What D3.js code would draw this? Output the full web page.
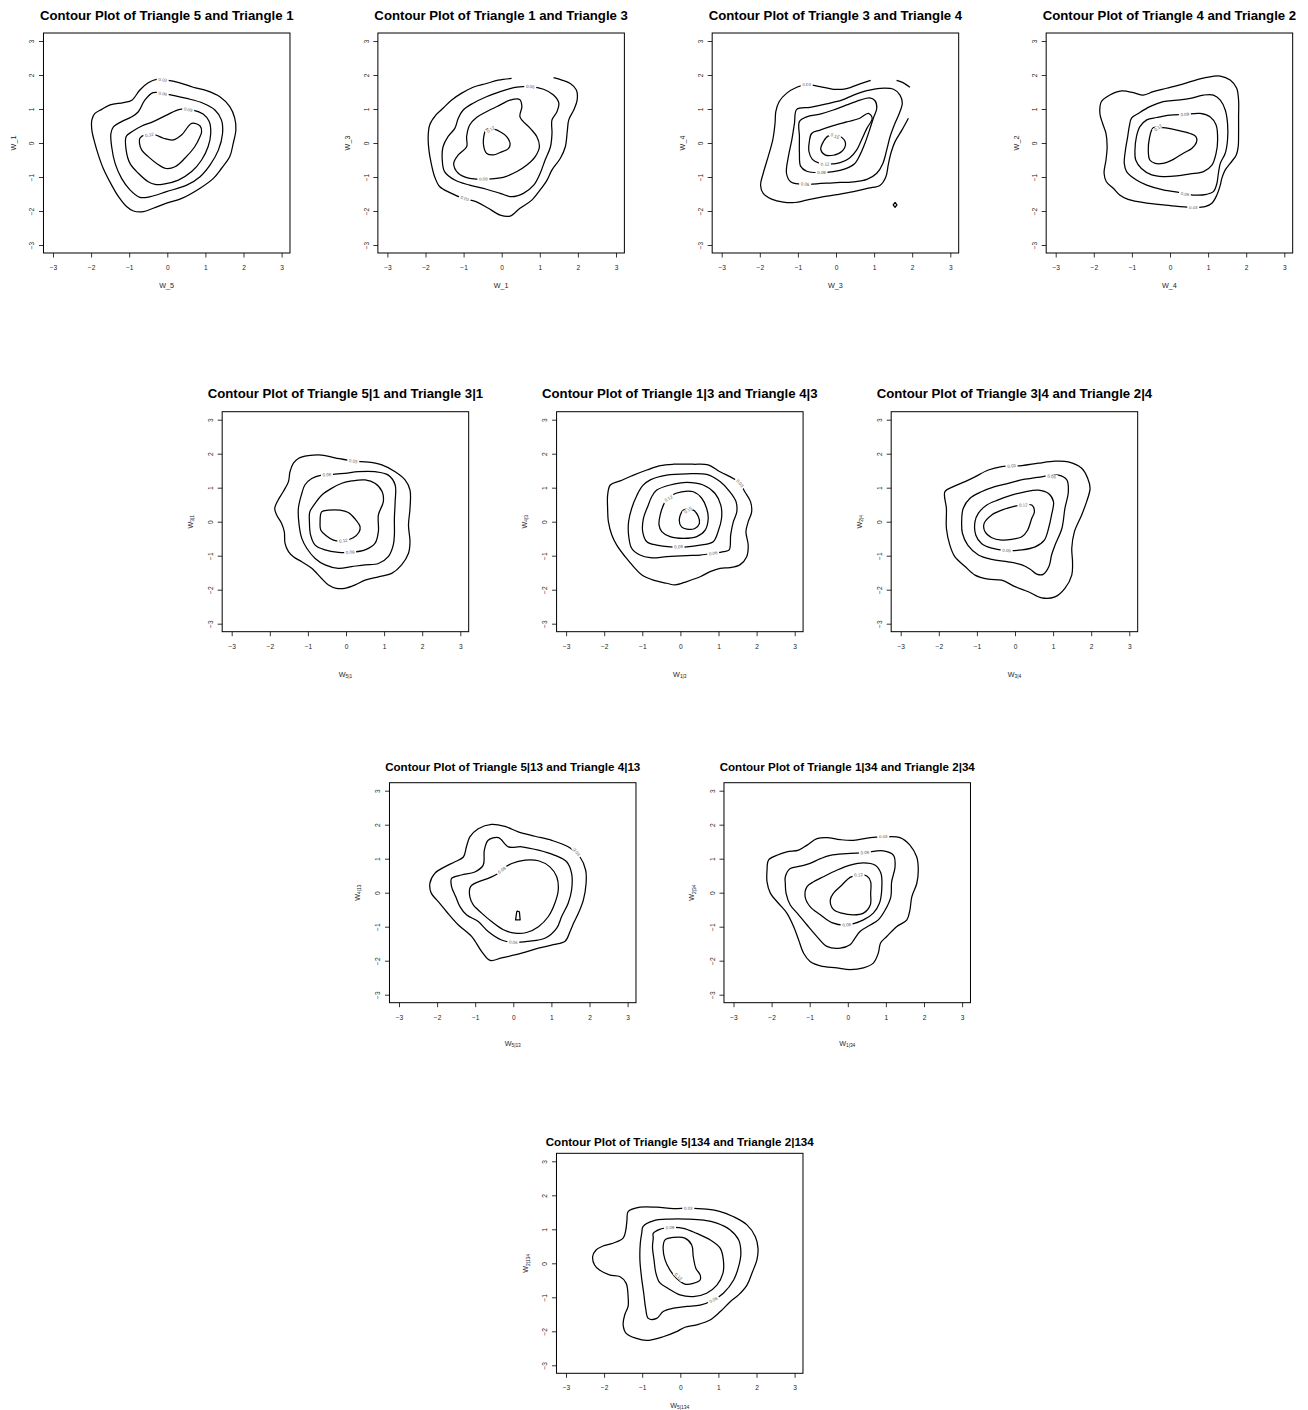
<!DOCTYPE html>
<html><head><meta charset="utf-8">
<script src="https://cdn.jsdelivr.net/npm/d3@7"></script>
<style>
body{margin:0;background:#fff}
svg{display:block}
text{font-family:"Liberation Sans",Arial,Helvetica,sans-serif}
</style>
</head><body>
<svg id="chart" width="1308" height="1410"></svg>
<script>
// ---------- axis ticks ----------
const tickValues = [-3, -2, -1, 0, 1, 2, 3];
const tickLabels = ["\u22123", "\u22122", "\u22121", "0", "1", "2", "3"];

// ---------- titles & axis labels ----------
const titles = [
  "Contour Plot of Triangle 5 and Triangle 1",
  "Contour Plot of Triangle 1 and Triangle 3",
  "Contour Plot of Triangle 3 and Triangle 4",
  "Contour Plot of Triangle 4 and Triangle 2",
  "Contour Plot of Triangle 5|1 and Triangle 3|1",
  "Contour Plot of Triangle 1|3 and Triangle 4|3",
  "Contour Plot of Triangle 3|4 and Triangle 2|4",
  "Contour Plot of Triangle 5|13 and Triangle 4|13",
  "Contour Plot of Triangle 1|34 and Triangle 2|34",
  "Contour Plot of Triangle 5|134 and Triangle 2|134"
];
// [base, subscript] ; plain labels have null subscript
const xLabels = [["W_5",null],["W_1",null],["W_3",null],["W_4",null],
  ["W","5|1"],["W","1|3"],["W","3|4"],["W","5|13"],["W","1|34"],["W","5|134"]];
const yLabels = [["W_1",null],["W_3",null],["W_4",null],["W_2",null],
  ["W","3|1"],["W","4|3"],["W","2|4"],["W","4|13"],["W","2|34"],["W","2|134"]];

// ---------- contour data (x, y in data units) ----------
// Panel 1
const p1_c03 = [[-0.02,1.85],[0.33,1.77],[0.68,1.64],[1.03,1.54],[1.38,1.36],[1.64,1.07],[1.77,0.73],[1.80,0.38],[1.73,-0.01],[1.64,-0.40],[1.42,-0.75],[1.21,-1.04],[0.86,-1.33],[0.38,-1.63],[-0.02,-1.77],[-0.37,-1.92],[-0.63,-2.02],[-0.89,-2.00],[-1.07,-1.87],[-1.28,-1.58],[-1.46,-1.24],[-1.68,-0.75],[-1.81,-0.35],[-1.90,-0.01],[-1.98,0.38],[-1.98,0.68],[-1.90,0.87],[-1.72,0.99],[-1.50,1.12],[-1.15,1.19],[-0.93,1.26],[-0.72,1.56],[-0.50,1.77],[-0.28,1.87]];
const p1_c06 = [[-0.02,1.44],[0.51,1.31],[0.94,1.17],[1.25,0.97],[1.42,0.68],[1.45,0.28],[1.34,-0.21],[1.12,-0.65],[0.86,-0.99],[0.51,-1.24],[-0.02,-1.43],[-0.45,-1.58],[-0.72,-1.60],[-0.98,-1.38],[-1.20,-1.04],[-1.37,-0.60],[-1.46,-0.11],[-1.48,0.28],[-1.41,0.48],[-1.20,0.63],[-0.93,0.77],[-0.76,0.92],[-0.59,1.26],[-0.37,1.48]];
const p1_c09 = [[-0.02,0.82],[0.33,0.99],[0.68,0.97],[0.94,0.85],[1.10,0.63],[1.14,0.28],[1.07,-0.11],[0.90,-0.50],[0.64,-0.84],[0.29,-1.09],[-0.10,-1.21],[-0.32,-1.22],[-0.50,-1.14],[-0.76,-0.89],[-0.98,-0.60],[-1.08,-0.21],[-1.08,0.19],[-0.93,0.33],[-0.67,0.50],[-0.37,0.63]];
const p1_c12 = [[-0.32,0.24],[-0.10,0.14],[0.16,0.09],[0.38,0.24],[0.64,0.58],[0.86,0.50],[0.90,0.33],[0.86,0.19],[0.72,-0.11],[0.46,-0.45],[0.20,-0.70],[-0.03,-0.75],[-0.28,-0.60],[-0.50,-0.40],[-0.67,-0.21],[-0.73,-0.01],[-0.72,0.14],[-0.59,0.24]];
const p1_labels = [[0.03,-0.12,1.86],[0.06,-0.12,1.45],[0.09,0.55,0.98],[0.12,-0.47,0.24]];

// Panel 2
const p2_c03 = [[0.26,1.90],[-0.09,1.85],[-0.40,1.75],[-0.75,1.64],[-1.06,1.46],[-1.32,1.26],[-1.54,1.02],[-1.73,0.82],[-1.89,0.53],[-1.93,0.19],[-1.91,-0.21],[-1.85,-0.60],[-1.76,-0.99],[-1.63,-1.28],[-1.36,-1.46],[-1.01,-1.63],[-0.66,-1.73],[-0.35,-1.92],[-0.04,-2.12],[0.22,-2.15],[0.48,-1.92],[0.79,-1.68],[1.01,-1.38],[1.19,-1.09],[1.32,-0.79],[1.54,-0.45],[1.67,-0.11],[1.72,0.33],[1.76,0.68],[1.89,0.97],[1.98,1.26],[1.96,1.56],[1.80,1.75],[1.58,1.85],[1.36,1.92]];
const p2_c06 = [[0.40,1.64],[0.75,1.66],[1.10,1.58],[1.36,1.41],[1.50,1.17],[1.45,0.92],[1.32,0.68],[1.32,0.28],[1.28,-0.11],[1.14,-0.50],[1.01,-0.89],[0.84,-1.24],[0.57,-1.48],[0.26,-1.58],[-0.04,-1.48],[-0.40,-1.36],[-0.84,-1.24],[-1.23,-1.09],[-1.50,-0.84],[-1.56,-0.50],[-1.54,-0.11],[-1.41,0.19],[-1.23,0.43],[-1.14,0.73],[-1.01,0.97],[-0.75,1.17],[-0.40,1.36],[-0.04,1.51],[0.22,1.60]];
const p2_c09 = [[0.22,1.26],[0.47,1.28],[0.53,1.07],[0.48,0.77],[0.75,0.43],[0.92,0.19],[0.99,-0.11],[0.88,-0.40],[0.66,-0.65],[0.40,-0.84],[0.04,-1.01],[-0.40,-1.06],[-0.84,-1.04],[-1.14,-0.89],[-1.26,-0.60],[-1.14,-0.35],[-0.92,-0.11],[-0.92,0.19],[-0.84,0.53],[-0.66,0.75],[-0.40,0.92],[-0.04,1.12]];
const p2_c12 = [[-0.40,0.40],[-0.18,0.40],[-0.04,0.33],[0.13,0.19],[0.22,-0.01],[0.18,-0.16],[-0.04,-0.28],[-0.22,-0.35],[-0.40,-0.30],[-0.47,-0.11],[-0.47,0.19]];
const p2_labels = [[0.03,-0.97,-1.63],[0.06,0.75,1.66],[0.09,-0.48,-1.06],[0.12,-0.29,0.40]];

// Panel 3
const p3_c03 = [[0.91,1.84],[0.63,1.74],[0.28,1.60],[-0.07,1.58],[-0.42,1.66],[-0.77,1.72],[-1.03,1.64],[-1.30,1.46],[-1.49,1.22],[-1.58,0.92],[-1.60,0.58],[-1.66,0.09],[-1.78,-0.40],[-1.91,-0.89],[-1.98,-1.24],[-1.91,-1.48],[-1.69,-1.65],[-1.38,-1.74],[-1.08,-1.75],[-0.77,-1.68],[-0.42,-1.60],[0.02,-1.52],[0.46,-1.43],[0.85,-1.33],[1.16,-1.24],[1.31,-0.99],[1.37,-0.65],[1.44,-0.30],[1.55,0.04],[1.73,0.38],[1.90,0.73]];
const p3_c03b = [[1.59,1.84],[1.77,1.77],[1.94,1.64]];
const p3_c03c = [[1.55,-1.75],[1.60,-1.82],[1.55,-1.89],[1.50,-1.82]];
const p3_c06 = [[-1.03,0.99],[-0.68,1.05],[-0.25,1.15],[0.15,1.26],[0.46,1.41],[0.81,1.54],[1.16,1.61],[1.51,1.58],[1.68,1.41],[1.74,1.17],[1.66,0.87],[1.53,0.53],[1.42,0.19],[1.33,-0.21],[1.23,-0.60],[1.07,-0.89],[0.81,-1.07],[0.46,-1.14],[-0.07,-1.17],[-0.51,-1.20],[-0.95,-1.21],[-1.19,-1.14],[-1.30,-0.89],[-1.25,-0.40],[-1.16,0.09],[-1.09,0.58]];
const p3_c09 = [[-0.96,0.63],[-0.77,0.77],[-0.42,0.85],[-0.07,0.97],[0.28,1.12],[0.63,1.26],[0.88,1.33],[1.02,1.25],[1.07,1.02],[0.98,0.73],[0.88,0.38],[0.76,-0.01],[0.63,-0.35],[0.48,-0.62],[0.24,-0.76],[-0.07,-0.84],[-0.42,-0.87],[-0.77,-0.83],[-0.93,-0.68],[-0.96,-0.30],[-0.96,0.19]];
const p3_c12 = [[-0.64,0.28],[-0.42,0.38],[-0.07,0.51],[0.28,0.62],[0.61,0.72],[0.85,0.87],[0.95,0.73],[0.81,0.43],[0.67,0.09],[0.54,-0.21],[0.35,-0.45],[0.11,-0.58],[-0.16,-0.62],[-0.42,-0.60],[-0.62,-0.48],[-0.71,-0.25],[-0.70,0.04]];
const p3_c15 = [[-0.20,0.21],[0.11,0.19],[0.25,-0.01],[0.15,-0.25],[-0.07,-0.36],[-0.29,-0.35],[-0.40,-0.19],[-0.33,0.04]];
const p3_labels = [[0.03,-0.77,1.72],[0.06,-0.81,-1.21],[0.09,-0.38,-0.87],[0.12,-0.29,-0.62],[0.15,-0.03,0.20]];

// Panel 4
const p4_c03 = [[-1.80,1.22],[-1.58,1.41],[-1.27,1.53],[-0.96,1.48],[-0.70,1.41],[-0.44,1.51],[-0.09,1.61],[0.26,1.71],[0.61,1.83],[0.96,1.93],[1.32,1.97],[1.58,1.85],[1.75,1.61],[1.80,1.26],[1.80,0.77],[1.80,0.28],[1.79,-0.11],[1.74,-0.35],[1.58,-0.60],[1.45,-0.79],[1.36,-1.04],[1.32,-1.24],[1.23,-1.53],[1.10,-1.77],[0.92,-1.87],[0.61,-1.89],[0.26,-1.87],[-0.18,-1.82],[-0.61,-1.77],[-1.10,-1.66],[-1.32,-1.53],[-1.49,-1.33],[-1.67,-1.14],[-1.73,-0.89],[-1.68,-0.50],[-1.65,-0.11],[-1.68,0.28],[-1.77,0.58],[-1.84,0.87]];
const p4_c06 = [[-1.01,0.73],[-0.83,0.87],[-0.53,1.07],[-0.18,1.22],[0.18,1.26],[0.53,1.31],[0.88,1.41],[1.14,1.41],[1.32,1.26],[1.45,0.97],[1.51,0.58],[1.51,0.09],[1.45,-0.30],[1.32,-0.60],[1.27,-0.89],[1.23,-1.19],[1.14,-1.43],[0.96,-1.51],[0.61,-1.53],[0.26,-1.46],[-0.18,-1.38],[-0.61,-1.24],[-0.88,-1.09],[-1.14,-0.84],[-1.20,-0.60],[-1.17,-0.21],[-1.11,0.19],[-1.07,0.48]];
const p4_c09 = [[-0.61,0.68],[-0.35,0.75],[0.00,0.82],[0.39,0.84],[0.79,0.87],[1.05,0.77],[1.21,0.53],[1.25,0.09],[1.21,-0.30],[1.10,-0.65],[0.88,-0.84],[0.53,-0.91],[0.18,-0.97],[-0.18,-0.99],[-0.48,-0.94],[-0.75,-0.75],[-0.90,-0.50],[-0.92,-0.21],[-0.88,0.19],[-0.79,0.48]];
const p4_c12 = [[-0.44,0.45],[-0.18,0.45],[0.18,0.38],[0.53,0.28],[0.68,0.19],[0.70,0.04],[0.57,-0.16],[0.35,-0.30],[0.09,-0.48],[-0.18,-0.60],[-0.39,-0.60],[-0.53,-0.50],[-0.57,-0.21],[-0.54,0.14]];
const p4_labels = [[0.03,0.61,-1.89],[0.06,0.39,-1.50],[0.09,0.39,0.84],[0.12,-0.31,0.45]];

// Panel 5
const p5_c03 = [[-1.25,1.86],[-0.99,1.94],[-0.64,1.96],[-0.29,1.88],[0.19,1.78],[0.59,1.75],[0.94,1.67],[1.29,1.47],[1.55,1.23],[1.68,0.93],[1.68,0.39],[1.64,-0.10],[1.68,-0.59],[1.64,-0.93],[1.46,-1.27],[1.20,-1.52],[0.85,-1.62],[0.50,-1.72],[0.24,-1.86],[-0.03,-1.96],[-0.25,-1.96],[-0.46,-1.86],[-0.64,-1.67],[-0.90,-1.37],[-1.16,-1.18],[-1.38,-1.03],[-1.51,-0.88],[-1.60,-0.64],[-1.62,-0.29],[-1.69,-0.05],[-1.82,0.20],[-1.87,0.39],[-1.78,0.64],[-1.65,0.88],[-1.51,1.18],[-1.47,1.47],[-1.38,1.72]];
const p5_c06 = [[-0.64,1.37],[-0.38,1.39],[-0.03,1.42],[0.32,1.47],[0.76,1.47],[1.11,1.37],[1.29,1.08],[1.29,0.59],[1.27,0.10],[1.27,-0.39],[1.24,-0.69],[1.11,-1.03],[0.85,-1.23],[0.50,-1.27],[0.15,-1.32],[-0.20,-1.37],[-0.55,-1.27],[-0.81,-1.08],[-1.03,-0.78],[-1.16,-0.49],[-1.23,-0.10],[-1.25,0.39],[-1.16,0.83],[-1.08,1.08],[-0.90,1.27]];
const p5_c09 = [[-0.38,0.98],[-0.11,1.13],[0.15,1.20],[0.50,1.23],[0.76,1.13],[0.95,0.88],[0.98,0.59],[0.85,0.20],[0.85,-0.29],[0.76,-0.64],[0.50,-0.83],[0.15,-0.90],[-0.20,-0.90],[-0.55,-0.83],[-0.81,-0.69],[-0.93,-0.39],[-0.96,0.00],[-0.95,0.29],[-0.81,0.54],[-0.64,0.78]];
const p5_c12 = [[-0.64,0.29],[-0.46,0.34],[-0.16,0.34],[0.06,0.27],[0.24,0.08],[0.37,-0.15],[0.34,-0.31],[0.19,-0.47],[-0.07,-0.56],[-0.33,-0.54],[-0.51,-0.42],[-0.66,-0.25],[-0.68,0.00]];
const p5_labels = [[0.03,0.19,1.78],[0.06,-0.50,1.38],[0.09,0.11,-0.90],[0.12,-0.07,-0.56]];

// Panel 6
const p6_c03 = [[-1.84,1.08],[-1.58,1.20],[-1.23,1.37],[-0.88,1.52],[-0.53,1.65],[-0.18,1.69],[0.34,1.69],[0.73,1.67],[1.04,1.47],[1.39,1.27],[1.56,1.13],[1.69,0.88],[1.84,0.59],[1.87,0.29],[1.78,0.00],[1.72,-0.29],[1.78,-0.69],[1.74,-1.03],[1.56,-1.27],[1.30,-1.35],[1.04,-1.37],[0.78,-1.47],[0.52,-1.62],[0.17,-1.76],[-0.14,-1.86],[-0.36,-1.81],[-0.71,-1.72],[-1.01,-1.57],[-1.23,-1.32],[-1.45,-1.03],[-1.67,-0.69],[-1.80,-0.39],[-1.89,0.00],[-1.91,0.39],[-1.91,0.78]];
const p6_c06 = [[-0.79,1.23],[-0.36,1.37],[0.17,1.41],[0.69,1.39],[1.04,1.18],[1.30,0.88],[1.46,0.59],[1.48,0.29],[1.39,0.00],[1.32,-0.39],[1.28,-0.83],[1.13,-0.88],[0.86,-0.93],[0.52,-0.98],[0.17,-1.00],[-0.36,-1.03],[-0.79,-1.06],[-1.06,-0.98],[-1.28,-0.78],[-1.36,-0.39],[-1.36,0.00],[-1.28,0.39],[-1.14,0.78],[-0.99,1.06]];
const p6_c09 = [[-0.62,0.93],[-0.27,1.08],[0.17,1.16],[0.60,1.08],[0.91,0.83],[1.06,0.49],[1.08,0.10],[0.99,-0.29],[0.86,-0.59],[0.52,-0.69],[0.17,-0.74],[-0.27,-0.74],[-0.62,-0.69],[-0.88,-0.59],[-0.99,-0.29],[-0.97,0.10],[-0.86,0.44],[-0.75,0.74]];
const p6_c12 = [[-0.40,0.59],[-0.23,0.78],[0.03,0.88],[0.34,0.88],[0.56,0.69],[0.69,0.39],[0.73,0.10],[0.65,-0.25],[0.43,-0.44],[0.08,-0.49],[-0.27,-0.44],[-0.49,-0.29],[-0.56,-0.10],[-0.53,0.20]];
const p6_c15 = [[0.08,0.34],[0.34,0.34],[0.47,0.15],[0.50,-0.05],[0.38,-0.20],[0.17,-0.22],[0.03,-0.15],[-0.03,0.05]];
const p6_labels = [[0.03,1.56,1.13],[0.06,0.86,-0.93],[0.09,-0.05,-0.74],[0.12,-0.31,0.68],[0.15,0.20,0.34]];

// Panel 7
const p7_c03 = [[-1.84,0.88],[-1.62,1.03],[-1.31,1.18],[-1.05,1.32],[-0.70,1.52],[-0.35,1.62],[0.18,1.65],[0.61,1.72],[1.05,1.78],[1.40,1.76],[1.75,1.57],[1.91,1.27],[1.97,0.98],[1.88,0.59],[1.75,0.20],[1.56,-0.29],[1.49,-0.78],[1.51,-1.18],[1.49,-1.57],[1.31,-1.96],[1.05,-2.21],[0.70,-2.24],[0.35,-2.06],[0.00,-1.91],[-0.35,-1.72],[-0.70,-1.69],[-1.05,-1.57],[-1.31,-1.32],[-1.58,-1.03],[-1.71,-0.69],[-1.80,-0.20],[-1.80,0.39]];
const p7_c06 = [[-1.36,0.39],[-1.18,0.69],[-0.88,0.88],[-0.53,1.03],[-0.18,1.13],[0.26,1.25],[0.70,1.32],[1.14,1.37],[1.36,1.23],[1.40,0.88],[1.31,0.39],[1.23,-0.20],[1.05,-0.69],[0.96,-0.98],[0.89,-1.32],[0.74,-1.55],[0.57,-1.54],[0.39,-1.39],[0.18,-1.27],[-0.18,-1.18],[-0.61,-1.11],[-0.96,-0.98],[-1.24,-0.69],[-1.38,-0.34],[-1.40,0.00]];
const p7_c09 = [[-1.05,0.00],[-0.96,0.25],[-0.74,0.49],[-0.44,0.64],[-0.09,0.78],[0.26,0.88],[0.61,0.93],[0.88,0.83],[1.01,0.59],[0.96,0.20],[0.88,-0.20],[0.77,-0.54],[0.53,-0.74],[0.18,-0.83],[-0.22,-0.85],[-0.61,-0.78],[-0.88,-0.64],[-1.03,-0.39]];
const p7_c12 = [[-0.81,-0.05],[-0.61,0.20],[-0.35,0.34],[0.00,0.46],[0.22,0.49],[0.44,0.49],[0.51,0.29],[0.44,0.10],[0.33,-0.25],[0.18,-0.44],[-0.09,-0.52],[-0.35,-0.54],[-0.61,-0.47],[-0.79,-0.29]];
const p7_labels = [[0.03,-0.09,1.64],[0.06,0.96,1.33],[0.09,-0.22,-0.85],[0.12,0.22,0.49]];

// Panel 8
const p8_c03 = [[-2.19,0.27],[-2.06,0.57],[-1.80,0.76],[-1.53,0.91],[-1.31,1.05],[-1.23,1.35],[-1.14,1.64],[-0.92,1.88],[-0.57,2.01],[-0.22,1.95],[0.13,1.79],[0.57,1.66],[1.01,1.54],[1.44,1.35],[1.75,1.05],[1.90,0.66],[1.91,0.27],[1.84,-0.21],[1.71,-0.60],[1.58,-0.90],[1.49,-1.14],[1.36,-1.43],[1.05,-1.53],[0.66,-1.63],[0.22,-1.78],[-0.31,-1.92],[-0.61,-1.99],[-0.83,-1.73],[-1.09,-1.29],[-1.44,-0.95],[-1.75,-0.56],[-1.97,-0.26],[-2.15,-0.02]];
const p8_c06 = [[-1.62,0.42],[-1.36,0.52],[-1.01,0.61],[-0.79,0.81],[-0.76,1.25],[-0.66,1.54],[-0.39,1.62],[-0.13,1.35],[0.22,1.35],[0.66,1.25],[1.09,1.10],[1.40,0.91],[1.53,0.57],[1.53,0.08],[1.44,-0.31],[1.27,-0.70],[1.14,-1.04],[0.83,-1.34],[0.39,-1.43],[0.00,-1.46],[-0.31,-1.39],[-0.66,-1.14],[-0.92,-0.85],[-1.23,-0.65],[-1.40,-0.41],[-1.51,-0.12],[-1.62,0.18]];
const p8_c09 = [[-1.09,0.22],[-0.92,0.32],[-0.66,0.42],[-0.39,0.57],[-0.26,0.71],[-0.04,0.86],[0.31,0.96],[0.66,0.94],[0.96,0.76],[1.14,0.47],[1.18,0.08],[1.09,-0.31],[0.92,-0.70],[0.66,-1.00],[0.35,-1.17],[0.04,-1.19],[-0.26,-1.09],[-0.57,-0.85],[-0.83,-0.60],[-1.05,-0.36],[-1.14,-0.12],[-1.14,0.13]];
const p8_c12 = [[0.11,-0.54],[0.16,-0.56],[0.18,-0.80],[0.06,-0.80],[0.09,-0.56]];
const p8_labels = [[0.03,1.66,1.20],[0.06,0.00,-1.46],[0.09,-0.30,0.66]];

// Panel 9
const p9_c03 = [[-2.08,0.96],[-1.86,1.10],[-1.60,1.20],[-1.29,1.25],[-1.07,1.40],[-0.81,1.59],[-0.55,1.62],[-0.20,1.56],[0.15,1.54],[0.59,1.62],[0.93,1.64],[1.37,1.62],[1.63,1.40],[1.81,1.05],[1.85,0.66],[1.81,0.27],[1.68,-0.12],[1.63,-0.51],[1.55,-0.80],[1.28,-1.00],[1.02,-1.29],[0.86,-1.48],[0.80,-1.78],[0.67,-2.07],[0.41,-2.21],[0.06,-2.26],[-0.29,-2.21],[-0.72,-2.15],[-0.99,-2.02],[-1.16,-1.78],[-1.29,-1.39],[-1.42,-1.00],[-1.60,-0.60],[-1.82,-0.31],[-2.03,-0.02],[-2.12,0.32],[-2.12,0.66]];
const p9_c06 = [[-1.64,0.47],[-1.51,0.71],[-1.25,0.78],[-0.99,0.86],[-0.72,1.00],[-0.46,1.10],[-0.03,1.15],[0.45,1.18],[0.93,1.23],[1.20,1.10],[1.24,0.76],[1.15,0.32],[1.13,-0.12],[0.98,-0.51],[0.80,-0.80],[0.59,-0.95],[0.32,-1.14],[0.17,-1.37],[0.06,-1.53],[-0.20,-1.63],[-0.55,-1.58],[-0.81,-1.29],[-1.07,-0.95],[-1.29,-0.65],[-1.51,-0.36],[-1.62,-0.02],[-1.64,0.27]];
const p9_c09 = [[-1.07,0.18],[-0.90,0.32],[-0.64,0.47],[-0.29,0.66],[0.06,0.81],[0.41,0.88],[0.72,0.81],[0.87,0.57],[0.89,0.08],[0.83,-0.31],[0.67,-0.60],[0.41,-0.80],[-0.03,-0.95],[-0.42,-0.88],[-0.72,-0.65],[-0.99,-0.41],[-1.12,-0.12]];
const p9_c12 = [[-0.46,-0.21],[-0.38,-0.02],[-0.16,0.22],[0.06,0.45],[0.28,0.52],[0.50,0.49],[0.60,0.32],[0.60,-0.02],[0.59,-0.36],[0.41,-0.60],[0.15,-0.65],[-0.16,-0.60],[-0.38,-0.49]];
const p9_labels = [[0.03,0.93,1.64],[0.06,0.45,1.18],[0.09,-0.03,-0.95],[0.12,0.28,0.52]];

// Panel 10
const p10_c03 = [[-1.37,1.52],[-1.06,1.65],[-0.62,1.65],[-0.18,1.61],[0.21,1.62],[0.69,1.59],[1.05,1.52],[1.40,1.37],[1.75,1.13],[1.97,0.78],[2.04,0.44],[2.01,0.10],[1.88,-0.29],[1.75,-0.64],[1.53,-0.93],[1.31,-1.13],[1.05,-1.42],[0.78,-1.67],[0.43,-1.81],[0.12,-1.88],[-0.10,-2.01],[-0.45,-2.16],[-0.89,-2.27],[-1.15,-2.21],[-1.42,-2.06],[-1.50,-1.81],[-1.46,-1.52],[-1.37,-1.27],[-1.37,-0.98],[-1.42,-0.59],[-1.59,-0.39],[-1.86,-0.34],[-2.12,-0.20],[-2.25,-0.05],[-2.30,0.20],[-2.21,0.39],[-2.03,0.51],[-1.77,0.59],[-1.50,0.74],[-1.43,0.98],[-1.40,1.27]];
const p10_c06 = [[-0.98,1.08],[-0.71,1.25],[-0.27,1.30],[0.17,1.30],[0.61,1.27],[0.96,1.18],[1.31,0.98],[1.53,0.69],[1.59,0.29],[1.53,-0.10],[1.40,-0.49],[1.13,-0.88],[0.87,-1.08],[0.52,-1.23],[0.17,-1.27],[-0.18,-1.32],[-0.45,-1.42],[-0.62,-1.62],[-0.84,-1.62],[-0.91,-1.32],[-0.96,-0.88],[-1.02,-0.39],[-1.06,0.10],[-1.05,0.59],[-1.01,0.90]];
const p10_c09 = [[-0.71,0.88],[-0.54,1.00],[-0.27,1.05],[0.08,1.03],[0.43,0.88],[0.78,0.69],[1.05,0.44],[1.13,0.10],[1.12,-0.29],[0.96,-0.64],[0.69,-0.88],[0.34,-0.98],[-0.01,-0.93],[-0.32,-0.74],[-0.54,-0.57],[-0.64,-0.29],[-0.69,0.10],[-0.73,0.49],[-0.71,0.74]];
const p10_c12 = [[-0.40,0.69],[-0.18,0.76],[0.12,0.74],[0.30,0.54],[0.34,0.20],[0.41,-0.15],[0.52,-0.34],[0.52,-0.49],[0.34,-0.59],[0.12,-0.61],[-0.10,-0.44],[-0.27,-0.20],[-0.40,0.10],[-0.45,0.49]];
const p10_labels = [[0.03,0.21,1.62],[0.06,0.87,-1.08],[0.09,-0.27,1.05],[0.12,-0.05,-0.39]];

// ---------- contour sets per panel (kind: smooth closed, open, poly) ----------
const panelContours = [
  [{lv:0.03,pts:p1_c03},{lv:0.06,pts:p1_c06},{lv:0.09,pts:p1_c09},{lv:0.12,pts:p1_c12}],
  [{lv:0.03,pts:p2_c03,kind:"open"},{lv:0.06,pts:p2_c06},{lv:0.09,pts:p2_c09},{lv:0.12,pts:p2_c12}],
  [{lv:0.03,pts:p3_c03,kind:"open"},{lv:0.03,pts:p3_c03b,kind:"open"},{lv:0.03,pts:p3_c03c,kind:"poly"},
   {lv:0.06,pts:p3_c06},{lv:0.09,pts:p3_c09},{lv:0.12,pts:p3_c12},{lv:0.15,pts:p3_c15}],
  [{lv:0.03,pts:p4_c03},{lv:0.06,pts:p4_c06},{lv:0.09,pts:p4_c09},{lv:0.12,pts:p4_c12}],
  [{lv:0.03,pts:p5_c03},{lv:0.06,pts:p5_c06},{lv:0.09,pts:p5_c09},{lv:0.12,pts:p5_c12}],
  [{lv:0.03,pts:p6_c03},{lv:0.06,pts:p6_c06},{lv:0.09,pts:p6_c09},{lv:0.12,pts:p6_c12},{lv:0.15,pts:p6_c15}],
  [{lv:0.03,pts:p7_c03},{lv:0.06,pts:p7_c06},{lv:0.09,pts:p7_c09},{lv:0.12,pts:p7_c12}],
  [{lv:0.03,pts:p8_c03},{lv:0.06,pts:p8_c06},{lv:0.09,pts:p8_c09},{lv:0.12,pts:p8_c12,kind:"poly"}],
  [{lv:0.03,pts:p9_c03},{lv:0.06,pts:p9_c06},{lv:0.09,pts:p9_c09},{lv:0.12,pts:p9_c12}],
  [{lv:0.03,pts:p10_c03},{lv:0.06,pts:p10_c06},{lv:0.09,pts:p10_c09},{lv:0.12,pts:p10_c12}]
];
const panelLabels = [p1_labels,p2_labels,p3_labels,p4_labels,p5_labels,p6_labels,p7_labels,p8_labels,p9_labels,p10_labels];

// ---------- layout (pixel position of data origin, per-row text offsets) ----------
const UX = 38.1, UY = 34.0;
const XDOM = [-3.25, 3.22], YDOM = [-3.235, 3.235];
const rowStyle = [
  {titleDy:-12.6, titleSize:13.2, xlabDy:32.7, ylabDx:-30},
  {titleDy:-14.0, titleSize:13.2, xlabDy:42.5, ylabDx:-32.5},
  {titleDy:-11.6, titleSize:11.6, xlabDy:40.0, ylabDx:-32.5},
  {titleDy:-7.4,  titleSize:11.6, xlabDy:31.5, ylabDx:-31}
];
const layout = [
  {x0:167.3, y0:143.0, row:0},{x0:501.7, y0:143.0, row:0},{x0:836.0, y0:143.0, row:0},{x0:1170.0, y0:143.0, row:0},
  {x0:346.0, y0:521.7, row:1},{x0:680.4, y0:521.7, row:1},{x0:1015.0, y0:521.7, row:1},
  {x0:513.3, y0:892.7, row:2},{x0:847.8, y0:892.7, row:2},
  {x0:680.3, y0:1263.3, row:3}
];

const svg = d3.select("#chart");
svg.append("rect").attr("width",1308).attr("height",1410).attr("fill","#fff");

function addLabel(sel, lab, size) {
  const t = sel.append("text").attr("font-size", size).attr("fill","#222");
  if (lab[1] === null) {
    t.text(lab[0]);
  } else {
    t.append("tspan").text(lab[0]);
    t.append("tspan").attr("font-size", size*0.68).attr("dy", size*0.3).text(lab[1]);
  }
  return t;
}

layout.forEach((L, i) => {
  const rs = rowStyle[L.row];
  const x = d3.scaleLinear().domain(XDOM).range([L.x0 + XDOM[0]*UX, L.x0 + XDOM[1]*UX]);
  const y = d3.scaleLinear().domain(YDOM).range([L.y0 - YDOM[0]*UY, L.y0 - YDOM[1]*UY]);
  const [bx0, bx1] = x.range();
  const [by1, by0] = y.range();
  const g = svg.append("g");

  // contour lines
  const cg = g.append("g");
  const contours = panelContours[i];
  contours.forEach(c => {
    let curve = d3.curveCatmullRomClosed.alpha(0.5);
    if (c.kind === "open") curve = d3.curveCatmullRom.alpha(0.5);
    if (c.kind === "poly") curve = d3.curveLinearClosed;
    const line = d3.line().x(d => x(d[0])).y(d => y(d[1])).curve(curve);
    cg.append("path").attr("d", line(c.pts)).attr("fill","none")
      .attr("stroke","#000").attr("stroke-width",1.25).attr("stroke-linejoin","round");
  });

  // contour labels
  panelLabels[i].forEach(([lv, lx, ly]) => {
    const c = contours.find(cc => cc.lv === lv);
    const px = x(lx), py = y(ly);
    const P = c.pts.map(p => [x(p[0]), y(p[1])]);
    let bi = 0, bd = Infinity;
    P.forEach((p, k) => { const d = (p[0]-px)**2 + (p[1]-py)**2; if (d < bd) { bd = d; bi = k; } });
    const n = P.length;
    const closed = c.kind !== "open";
    const a = closed ? P[(bi-1+n)%n] : P[Math.max(0,bi-1)];
    const b = closed ? P[(bi+1)%n] : P[Math.min(n-1,bi+1)];
    let ang = Math.atan2(b[1]-a[1], b[0]-a[0]) * 180/Math.PI;
    if (ang > 90) ang -= 180;
    if (ang < -90) ang += 180;
    const lg = g.append("g").attr("transform", `translate(${px},${py}) rotate(${ang})`);
    lg.append("rect").attr("x",-6).attr("y",-2.2).attr("width",12).attr("height",4.4).attr("fill","#fff");
    lg.append("text").attr("text-anchor","middle").attr("dominant-baseline","central")
      .attr("font-size",4.4).attr("fill","#555").text(lv.toFixed(2));
  });

  // box
  g.append("rect").attr("x",bx0).attr("y",by0).attr("width",bx1-bx0).attr("height",by1-by0)
    .attr("fill","none").attr("stroke","#000").attr("stroke-width",1);

  // x axis
  const xa = g.append("g").attr("transform",`translate(0,${by1})`)
    .call(d3.axisBottom(x).tickValues(tickValues).tickSize(4.5).tickFormat((d,k)=>tickLabels[k]));
  xa.select(".domain").remove();
  xa.selectAll(".tick line").attr("stroke","#000").attr("stroke-width",0.8);
  xa.selectAll(".tick text").attr("y",14.4).attr("dy",null).attr("dominant-baseline","central")
    .attr("font-size",6.6).attr("fill","#222").attr("font-family",null);

  // y axis
  const ya = g.append("g").attr("transform",`translate(${bx0},0)`)
    .call(d3.axisLeft(y).tickValues(tickValues).tickSize(4.5).tickFormat((d,k)=>tickLabels[k]));
  ya.select(".domain").remove();
  ya.selectAll(".tick line").attr("stroke","#000").attr("stroke-width",0.8);
  ya.selectAll(".tick text").attr("x",0).attr("dy",null).attr("text-anchor","middle")
    .attr("dominant-baseline","central").attr("transform","translate(-11.7,0) rotate(-90)")
    .attr("font-size",6.6).attr("fill","#222").attr("font-family",null);

  // title
  svg.append("text").attr("x",(bx0+bx1)/2).attr("y",by0 + rs.titleDy)
    .attr("text-anchor","middle").attr("font-weight","bold").attr("font-size",rs.titleSize)
    .attr("fill","#000").text(titles[i]);

  // x label
  addLabel(svg, xLabels[i], 7.2).attr("x",(bx0+bx1)/2).attr("y",by1 + rs.xlabDy)
    .attr("text-anchor","middle").attr("dominant-baseline","central");
  // y label
  addLabel(svg, yLabels[i], 7.2).attr("text-anchor","middle").attr("dominant-baseline","central")
    .attr("transform",`translate(${bx0 + rs.ylabDx},${(by0+by1)/2}) rotate(-90)`);
});
</script>
</body></html>
